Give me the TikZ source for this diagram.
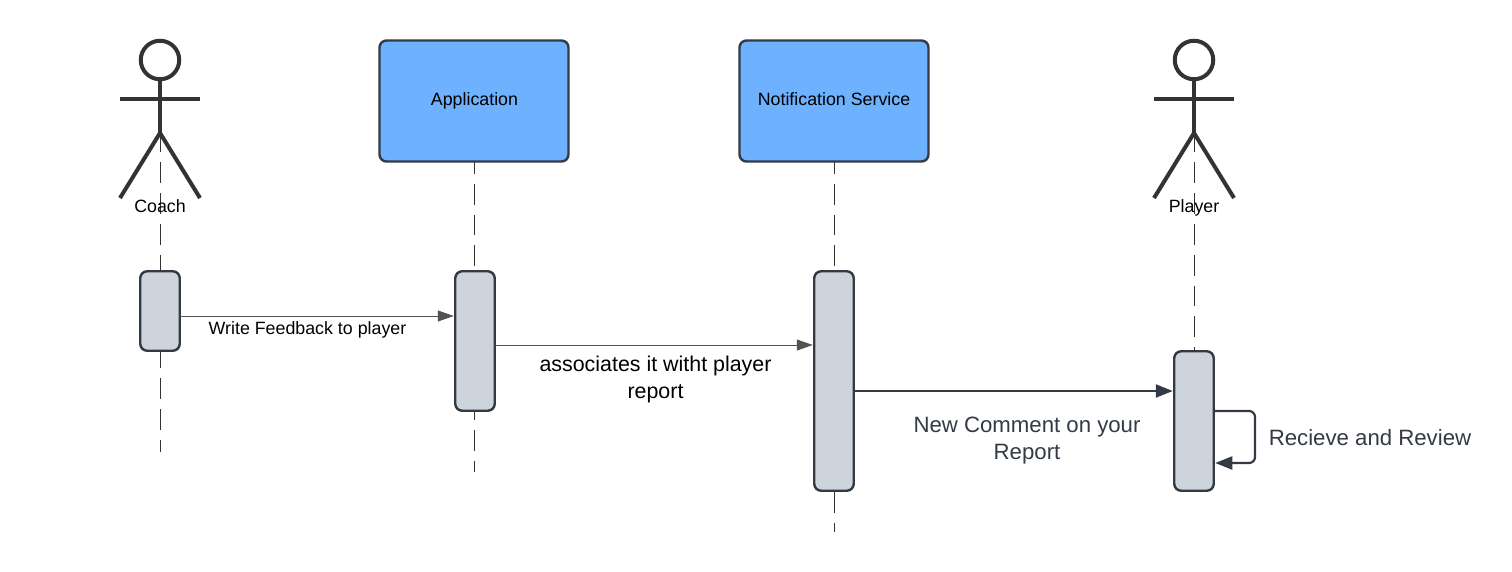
\documentclass[tikz,border=0pt]{standalone}
\usepackage{fontspec}
\setmainfont{Liberation Sans}
\usetikzlibrary{arrows.meta,calc}
\definecolor{inkdark}{HTML}{333333}
\definecolor{slate}{HTML}{333A44}
\definecolor{boxblue}{HTML}{6DB1FF}
\definecolor{actgray}{HTML}{CED4DB}
\tikzset{
  x=1pt,y=-1pt,
  every node/.style={inner sep=0pt,outer sep=0pt,font=\fontsize{17.8}{26.5}\selectfont},
  lifebox/.style={draw=slate,line width=2.4pt,fill=boxblue,rounded corners=7pt,minimum width=189pt,minimum height=121pt},
  actbox/.style={draw=slate,line width=2.4pt,fill=actgray,rounded corners=7pt,minimum width=39.5pt},
  lifeline/.style={draw=inkdark,line width=0.9pt,dash pattern=on 20.8pt off 10pt},
  limb/.style={draw=inkdark,line width=4pt},
  head/.style={circle,draw=inkdark,line width=4pt,fill=white,minimum size=38.5pt},
  thinmsg/.style={draw=inkdark!85,line width=0.8pt,shorten >=1.5pt,-{Triangle[length=16pt,width=11pt]}},
  thickmsg/.style={draw=slate,line width=2.2pt,shorten >=1.5pt,-{Triangle[length=17pt,width=13pt]}},
  dark/.style={text=slate},
  wrapc/.style={align=center}
}
\begin{document}
\begin{tikzpicture}
\useasboundingbox (0,0) rectangle (1512,571);
% coordinates
\coordinate (coachTop) at (160.5,131.6);
\coordinate (coachEnd) at (160.5,452);
\coordinate (appTop) at (474.5,162);
\coordinate (appEnd) at (474.5,472);
\coordinate (notTop) at (834.5,162);
\coordinate (notEnd) at (834.5,532);
\coordinate (playerTop) at (1194.3,131.6);
\coordinate (playerEnd) at (1194.3,351);
\coordinate (m1) at (300,316);
\coordinate (m2) at (650,345);
\coordinate (m3) at (1000,391);
\coordinate (loopA) at (1255,411);
\coordinate (loopB) at (1255,463);
% lifelines
\draw[lifeline] (coachTop) -- (coachEnd);
\draw[lifeline,dash phase=9pt] (appTop) -- (appEnd);
\draw[lifeline,dash phase=9pt] (notTop) -- (notEnd);
\draw[lifeline] (playerTop) -- (playerEnd);
% heads
\node[lifebox] (app) at (474,101) {\hspace*{1pt}\raisebox{-4pt}[0pt][0pt]{Application}};
\node[lifebox] (not) at (834,101) {\raisebox{-4pt}[0pt][0pt]{Notification Service}};
% actors
\node[head] (h1) at (160,60) {};
\coordinate (a1l) at (120,99); \coordinate (a1r) at (200,99);
\coordinate (hip1) at (160,133);
\coordinate (f1l) at (120,198); \coordinate (f1r) at (200,198);
\draw[limb] (h1.south) -- (hip1);
\draw[limb] (a1l) -- (a1r);
\draw[limb] (f1l) -- (hip1) -- (f1r);
\node[head] (h2) at (1194,60) {};
\coordinate (a2l) at (1154,99); \coordinate (a2r) at (1234,99);
\coordinate (hip2) at (1194,133);
\coordinate (f2l) at (1154,198); \coordinate (f2r) at (1234,198);
\draw[limb] (h2.south) -- (hip2);
\draw[limb] (a2l) -- (a2r);
\draw[limb] (f2l) -- (hip2) -- (f2r);
\node (coach) at (160,207.5) {\strut Coach};
\node (player) at (1194,207.5) {\strut Player};
% activations
\node[actbox,minimum height=79.5pt] (c1) at (160,311) {};
\node[actbox,minimum height=139.5pt] (a1) at (475,341) {};
\node[actbox,minimum height=219.5pt] (n1) at (834,381) {};
\node[actbox,minimum height=139.5pt] (p1) at (1194,421) {};
% messages
\draw[thinmsg] (c1.east |- m1) -- (a1.west |- m1);
\draw[thinmsg] (a1.east |- m2) -- (n1.west |- m2);
\draw[thickmsg] (n1.east |- m3) -- (p1.west |- m3);
\draw[thickmsg,rounded corners=6pt] (p1.east |- loopA) -- (loopA) -- (loopB) -- (p1.east |- loopB);
% labels
\node (l1) at (307.5,329) {\strut Write Feedback to player};
\node[wrapc] (l2) at (655.5,379.5) {\fontsize{21.4}{26.5}\selectfont associates it witht player\\\fontsize{21.4}{26.5}\selectfont report};
\node[wrapc,dark] (l3) at (1027,440.5) {\fontsize{22.2}{26.5}\selectfont New Comment on your\\\fontsize{22.2}{26.5}\selectfont Report};
\node[dark] (l4) at (1370,440.5) {\fontsize{22.2}{26}\selectfont\strut Recieve and Review};
\end{tikzpicture}
\end{document}
